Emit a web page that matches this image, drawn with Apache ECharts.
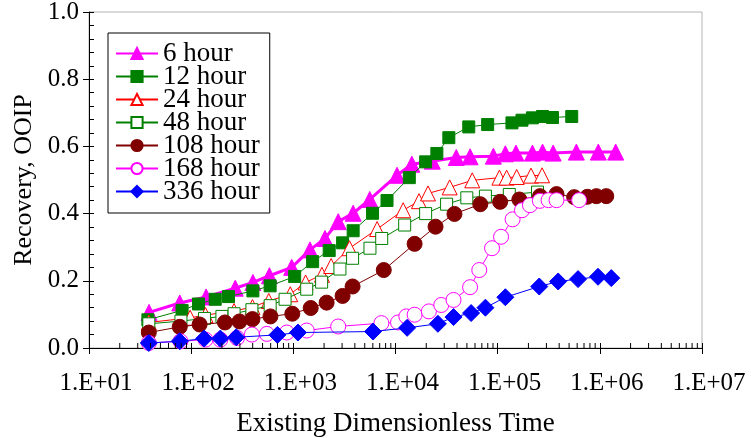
<!DOCTYPE html>
<html>
<head>
<meta charset="utf-8">
<script src="https://cdn.jsdelivr.net/npm/echarts@6/dist/echarts.min.js"></script>
<style>html,body{margin:0;padding:0;background:#fff;}#c{width:751px;height:438px;}</style>
</head>
<body>
<div id="c"></div>
<script>
// ---- data (x = existing dimensionless time, y = recovery fraction OOIP) ----
const time6h = [38.7,77.3,140,270,402,583,964,1455,2040,2750,3850,5600,10350,14450,22900,39300,53700,90800,118900,151000,219000,275000,349000,589000,966000,1430000];
const rec6h  = [0.106,0.134,0.152,0.178,0.195,0.215,0.240,0.292,0.326,0.376,0.401,0.442,0.514,0.547,0.556,0.567,0.569,0.571,0.578,0.580,0.580,0.583,0.580,0.583,0.583,0.583];

const time12h = [37.7,81.5,118,172,232,402,593,1030,1545,2244,3034,3850,5960,8260,13650,19720,25400,33270,52120,79800,138000,173000,219000,275000,344000,531000];
const rec12h  = [0.084,0.112,0.131,0.145,0.153,0.170,0.185,0.213,0.257,0.290,0.313,0.349,0.401,0.439,0.507,0.554,0.579,0.626,0.658,0.665,0.670,0.678,0.685,0.689,0.686,0.689];

const time24h = [38.5,97.7,138,263,398,575,933,1318,1905,2344,3548,6607,11890,16980,20800,33900,56400,104000,122500,153500,212000,272000];
const rec24h  = [0.076,0.090,0.098,0.110,0.122,0.140,0.160,0.195,0.218,0.244,0.297,0.354,0.410,0.437,0.460,0.478,0.499,0.507,0.507,0.509,0.513,0.514];

const time48h = [38.5,79.4,135,200,263,393,593,830,1352,1892,2858,3802,5623,7330,12300,19720,31620,49900,75860,130000,245500];
const rec48h  = [0.072,0.080,0.088,0.094,0.102,0.114,0.126,0.145,0.175,0.196,0.235,0.267,0.297,0.326,0.366,0.400,0.428,0.447,0.452,0.457,0.464];

const time108h = [38.5,77.3,121,214,297,398,597,977,1479,2118,3034,3802,7674,15380,24660,37760,67600,105700,163000,259400,376700,561000,755000,925000,1156000];
const rec108h  = [0.046,0.063,0.070,0.076,0.079,0.086,0.094,0.102,0.119,0.135,0.155,0.183,0.232,0.310,0.361,0.399,0.428,0.435,0.442,0.452,0.458,0.449,0.450,0.452,0.452];

const time168h = [38.5,78.5,138,193,281,393,551,863,1352,2748,7278,10590,12760,15380,21230,28050,36980,53700,66070,88100,107900,140000,173000,207000,258800,314800,376700,626600];
const rec168h  = [0.015,0.020,0.025,0.025,0.030,0.040,0.042,0.046,0.052,0.064,0.074,0.076,0.094,0.099,0.109,0.128,0.143,0.181,0.232,0.297,0.331,0.383,0.410,0.425,0.438,0.440,0.440,0.440];

const time336h = [38.5,77.3,134,193,276,698,1109,6026,13000,26000,36980,54950,75860,118900,255300,390800,612400,959400,1294000];
const rec336h  = [0.015,0.020,0.028,0.028,0.032,0.039,0.046,0.049,0.060,0.072,0.092,0.104,0.120,0.151,0.183,0.198,0.205,0.212,0.208];

const seriesNames = ['6 hour','12 hour','24 hour','48 hour','108 hour','168 hour','336 hour'];

// minor log ticks (2..9 within each decade)
const minorTickValues = [];
for (let e = 1; e < 7; e++) for (let m = 2; m <= 9; m++) minorTickValues.push(m * Math.pow(10, e));

const zip = (xs, ys) => xs.map((x, i) => [x, ys[i]]);
const FONT = 'Liberation Serif';

const styles = [
  {symbol:'triangle', size:16, fill:'#FF00FF', stroke:'#FF00FF', line:'#FF00FF', lw:3},
  {symbol:'rect',     size:12, fill:'#008000', stroke:'#008000', line:'#008000', lw:1},
  {symbol:'triangle', size:15, fill:'#FFFFFF', stroke:'#FF0000', line:'#FF0000', lw:1},
  {symbol:'rect',     size:12, fill:'#FFFFFF', stroke:'#008000', line:'#008000', lw:1},
  {symbol:'circle',   size:15, fill:'#800000', stroke:'#800000', line:'#800000', lw:1},
  {symbol:'circle',   size:15, fill:'#FFFFFF', stroke:'#FF00FF', line:'#FF00FF', lw:1},
  {symbol:'diamond',  size:17, fill:'#0000FF', stroke:'#0000FF', line:'#0000FF', lw:1}
];
const dataSets = [
  zip(time6h, rec6h), zip(time12h, rec12h), zip(time24h, rec24h), zip(time48h, rec48h),
  zip(time108h, rec108h), zip(time168h, rec168h), zip(time336h, rec336h)
];

const lineSeries = seriesNames.map((name, i) => ({
  name, type:'line', data: dataSets[i],
  xAxisIndex:0, yAxisIndex:0,
  symbol: styles[i].symbol, symbolSize: styles[i].size, showAllSymbol:true,
  lineStyle:{color: styles[i].line, width: styles[i].lw},
  itemStyle:{color: styles[i].fill, borderColor: styles[i].stroke, borderWidth: 1},
  z: 3 + i * 0.01
}));

const minorTickSeries = {
  type:'custom', name:'minorTicks', xAxisIndex:0, yAxisIndex:0, silent:true, clip:false, z:10,
  data: minorTickValues.map(v => [v]),
  encode:{x:0},
  renderItem: (params, api) => {
    const p = api.coord([api.value(0), 0]);
    return {type:'line', shape:{x1:p[0], y1:p[1], x2:p[0], y2:p[1] - 5}, style:{stroke:'#000', lineWidth:1}};
  }
};

const expLabel = v => {
  const e = Math.round(Math.log10(v));
  return '1.E+' + (e < 10 ? '0' + e : String(e));
};

const chart = echarts.init(document.getElementById('c'), null, {renderer:'canvas'});
chart.setOption({
  animation:false,
  backgroundColor:'#fff',
  textStyle:{fontFamily:FONT},
  grid:{left:89, right:49, top:12, bottom:90, containLabel:false, outerBoundsMode:'none',
        show:true, borderColor:'#b4b4b4', borderWidth:1, backgroundColor:'transparent'},
  legend:{
    data: seriesNames, orient:'vertical', left:108, top:33,
    backgroundColor:'#fff', borderColor:'#000', borderWidth:1,
    padding:[7,10,8,7], itemGap:-4, itemWidth:42, itemHeight:14,
    textStyle:{fontFamily:FONT, fontSize:27, color:'#000', lineHeight:27}
  },
  xAxis:[
    {type:'log', logBase:10, min:10, max:1e7, interval:1, position:'bottom',
     name:'Existing Dimensionless Time', nameLocation:'middle', nameGap:62,
     nameTextStyle:{fontFamily:FONT, fontSize:27, color:'#000'},
     axisLine:{show:true, onZero:false, lineStyle:{color:'#000', width:1}},
     axisTick:{show:true, inside:false, length:6, lineStyle:{color:'#000'}},
     axisLabel:{formatter: expLabel, fontFamily:FONT, fontSize:25, color:'#000', margin:23, padding:[0,0,0,14]},
     splitLine:{show:false}, minorTick:{show:false}},
    {type:'log', logBase:10, min:10, max:1e7, interval:1, position:'bottom',
     axisLine:{show:false}, axisLabel:{show:false},
     axisTick:{show:true, inside:true, length:5, lineStyle:{color:'#000'}},
     splitLine:{show:false}}
  ],
  yAxis:[
    {type:'value', min:0, max:1, interval:0.2, position:'left',
     name:'Recovery, OOIP', nameLocation:'middle', nameGap:50,
     nameTextStyle:{fontFamily:FONT, fontSize:26, color:'#000'},
     axisLine:{show:true, onZero:false, lineStyle:{color:'#000', width:1}},
     axisTick:{show:true, inside:false, length:6, lineStyle:{color:'#000'}},
     axisLabel:{formatter: v => v.toFixed(1), fontFamily:FONT, fontSize:25, color:'#000', margin:10},
     splitLine:{show:false}},
    {type:'value', min:0, max:1, interval:0.2, position:'left',
     axisLine:{show:false}, axisLabel:{show:false},
     axisTick:{show:true, inside:true, length:5, lineStyle:{color:'#000'}},
     minorTick:{show:true, splitNumber:5, length:5, lineStyle:{color:'#000'}},
     splitLine:{show:false}}
  ],
  series: lineSeries.concat([minorTickSeries])
});
</script>
</body>
</html>
